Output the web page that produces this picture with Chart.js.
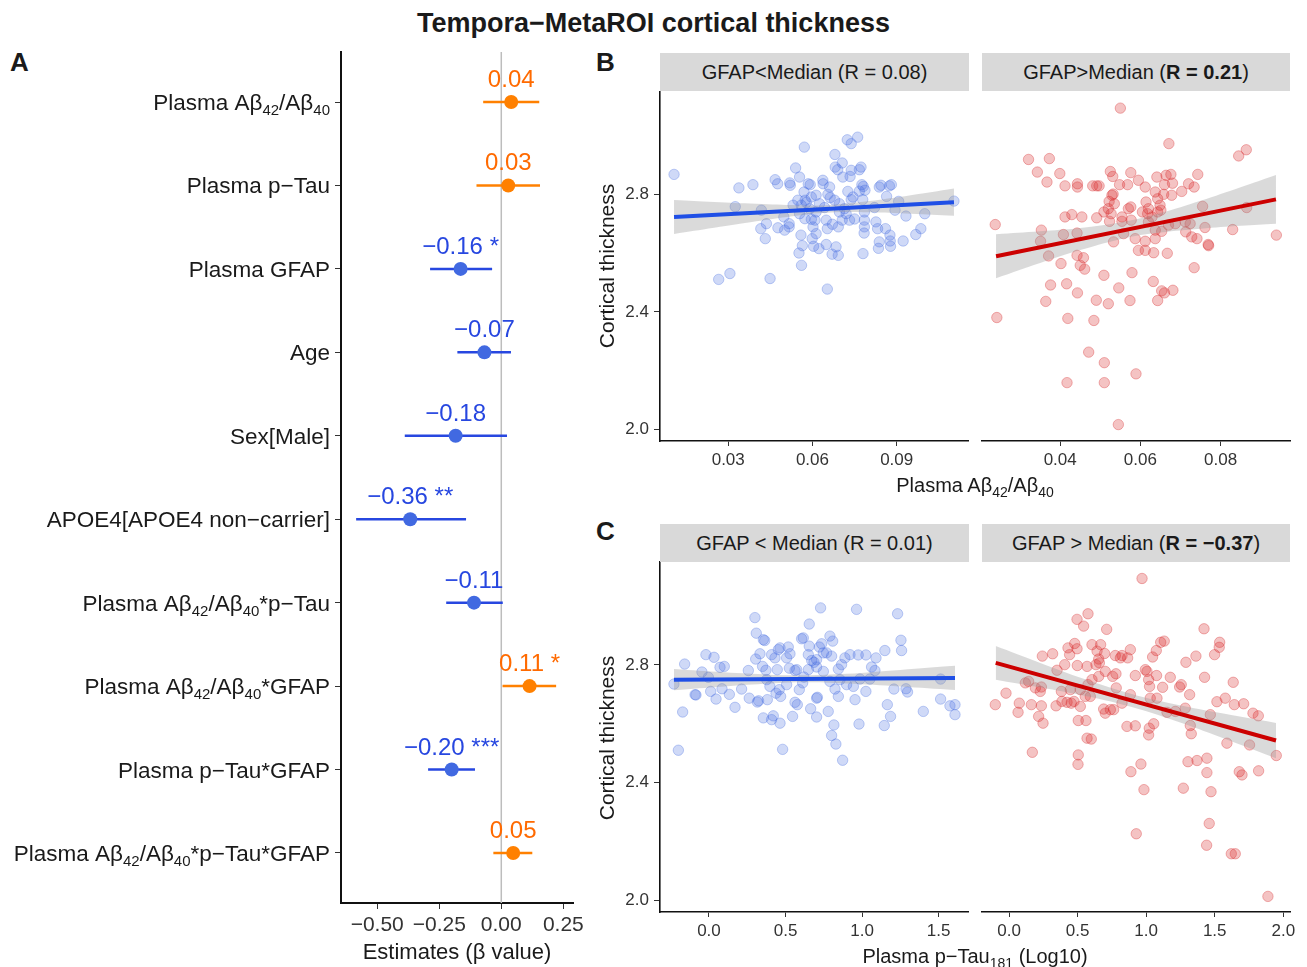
<!DOCTYPE html>
<html><head><meta charset="utf-8">
<script src="https://cdn.jsdelivr.net/npm/chart.js@4.4.1/dist/chart.umd.min.js"></script>
<style>
body{margin:0;background:#fff;font-family:"Liberation Sans",Arial,sans-serif;color:#1a1a1a}
#wrap{position:relative;width:1307px;height:967px;overflow:hidden;background:#fff}
.abs{position:absolute;white-space:nowrap}
canvas{position:absolute}
.strip{position:absolute;background:#d9d9d9;text-align:center;font-size:20px;color:#1a1a1a;white-space:nowrap}
.sub{font-size:14px;position:relative;top:5px}
.ytitle{position:absolute;width:220px;height:24px;line-height:24px;text-align:center;font-size:21px;transform:rotate(-90deg);white-space:nowrap}
</style></head><body><div id="wrap">
<div class="abs" style="left:0;width:1307px;top:10px;text-align:center;font-weight:bold;font-size:27px;line-height:27px">Tempora−MetaROI cortical thickness</div>
<div class="abs" style="left:10px;top:49px;font-weight:bold;font-size:26px;line-height:26px">A</div>
<div class="abs" style="left:596px;top:49px;font-weight:bold;font-size:26px;line-height:26px">B</div>
<div class="abs" style="left:596px;top:518px;font-weight:bold;font-size:26px;line-height:26px">C</div>

<canvas id="cA" width="590" height="900" style="left:0;top:40px"></canvas>
<canvas id="cB1" width="385" height="391" style="left:590px;top:85px"></canvas>
<canvas id="cB2" width="325" height="391" style="left:975px;top:85px"></canvas>
<canvas id="cC1" width="385" height="392" style="left:590px;top:555px"></canvas>
<canvas id="cC2" width="325" height="392" style="left:975px;top:555px"></canvas>

<div class="strip" style="left:660px;top:53px;width:309px;height:38px;line-height:38px">GFAP&lt;Median (R = 0.08)</div>
<div class="strip" style="left:982px;top:53px;width:308px;height:38px;line-height:38px">GFAP&gt;Median (<b>R = 0.21</b>)</div>
<div class="strip" style="left:660px;top:524px;width:309px;height:38px;line-height:38px">GFAP &lt; Median (R = 0.01)</div>
<div class="strip" style="left:982px;top:524px;width:308px;height:38px;line-height:38px">GFAP &gt; Median (<b>R = −0.37</b>)</div>

<div class="ytitle" style="left:497px;top:254px">Cortical thickness</div>
<div class="ytitle" style="left:497px;top:726px">Cortical thickness</div>

<div class="abs" style="left:257px;width:400px;top:941px;text-align:center;font-size:22px;line-height:22px">Estimates (β value)</div>
<div class="abs" style="left:775px;width:400px;top:475px;text-align:center;font-size:20px;line-height:20px">Plasma Aβ<span class="sub">42</span>/Aβ<span class="sub">40</span></div>
<div class="abs" style="left:775px;width:400px;top:946px;text-align:center;font-size:20px;line-height:20px">Plasma p−Tau<span class="sub">181</span> (Log10)</div>
</div>
<script>
// ---------------- DATA ----------------
const forestLabels = ['Plasma Aβ_{42}/Aβ_{40}','Plasma p−Tau','Plasma GFAP','Age','Sex[Male]','APOE4[APOE4 non−carrier]','Plasma Aβ_{42}/Aβ_{40}*p−Tau','Plasma Aβ_{42}/Aβ_{40}*GFAP','Plasma p−Tau*GFAP','Plasma Aβ_{42}/Aβ_{40}*p−Tau*GFAP'];
const forestEst  = [0.040, 0.028, -0.164, -0.068, -0.184, -0.367, -0.110, 0.114, -0.200, 0.048];
const forestLow  = [-0.073, -0.100, -0.287, -0.177, -0.389, -0.585, -0.222, 0.005, -0.295, -0.032];
const forestHigh = [0.153, 0.156, -0.037, 0.039, 0.023, -0.142, 0.006, 0.221, -0.106, 0.125];
const forestText = ['0.04','0.03','−0.16','−0.07','−0.18','−0.36','−0.11','0.11','−0.20','0.05'];
const forestStars = ['','','*','','','**','','*','***',''];
const forestXTicks = [-0.5, -0.25, 0, 0.25];
const forestXTickLabels = ['−0.50','−0.25','0.00','0.25'];

const yTicks = [2.0, 2.4, 2.8];
const yTickLabels = ['2.0','2.4','2.8'];

const bLowXTicks = [0.03, 0.06, 0.09];      const bLowXLabels = ['0.03','0.06','0.09'];
const bHighXTicks = [0.04, 0.06, 0.08];     const bHighXLabels = ['0.04','0.06','0.08'];
const cLowXTicks = [0, 0.5, 1.0, 1.5];      const cLowXLabels = ['0.0','0.5','1.0','1.5'];
const cHighXTicks = [0, 0.5, 1.0, 1.5, 2.0]; const cHighXLabels = ['0.0','0.5','1.0','1.5','2.0'];

// Panel B, GFAP < median (Abeta42/40, thickness)
const bLowPts = [[0.0107,2.869],[0.0338,2.823],[0.0388,2.834],[0.0325,2.759],[0.0266,2.511],[0.0306,2.531],[0.0449,2.514],[0.0467,2.851],[0.0476,2.837],[0.0519,2.840],[0.0521,2.832],[0.0540,2.891],[0.0554,2.860],[0.0571,2.962],[0.0585,2.837],[0.0592,2.834],[0.0570,2.809],[0.0574,2.781],[0.0560,2.764],[0.0554,2.735],[0.0573,2.718],[0.0596,2.716],[0.0609,2.713],[0.0602,2.690],[0.0613,2.667],[0.0599,2.650],[0.0559,2.662],[0.0552,2.601],[0.0561,2.559],[0.0564,2.626],[0.0604,2.624],[0.0623,2.616],[0.0649,2.630],[0.0653,2.478],[0.0670,2.597],[0.0692,2.593],[0.0684,2.622],[0.0653,2.684],[0.0671,2.699],[0.0692,2.690],[0.0649,2.713],[0.0637,2.849],[0.0638,2.837],[0.0661,2.826],[0.0655,2.801],[0.0663,2.790],[0.0613,2.798],[0.0596,2.792],[0.0625,2.769],[0.0643,2.756],[0.0679,2.781],[0.0696,2.769],[0.0714,2.752],[0.0720,2.735],[0.0706,2.713],[0.0732,2.713],[0.0750,2.717],[0.0726,2.811],[0.0738,2.783],[0.0680,2.937],[0.0706,2.908],[0.0681,2.894],[0.0690,2.885],[0.0708,2.860],[0.0734,2.862],[0.0738,2.883],[0.0724,2.987],[0.0738,2.974],[0.0761,2.996],[0.0773,2.894],[0.0767,2.885],[0.0776,2.834],[0.0781,2.828],[0.0787,2.815],[0.0767,2.812],[0.0779,2.783],[0.0785,2.741],[0.0785,2.713],[0.0785,2.690],[0.0784,2.669],[0.0780,2.599],[0.0826,2.707],[0.0832,2.684],[0.0860,2.684],[0.0876,2.662],[0.0877,2.642],[0.0838,2.639],[0.0835,2.617],[0.0878,2.624],[0.0923,2.642],[0.0968,2.664],[0.0986,2.684],[0.0933,2.727],[0.1000,2.735],[0.0894,2.747],[0.0907,2.777],[0.0864,2.794],[0.0838,2.826],[0.0844,2.832],[0.0874,2.830],[0.0881,2.834],[0.0821,2.756],[0.0418,2.747],[0.0416,2.684],[0.0436,2.701],[0.0432,2.650],[0.0477,2.687],[0.0501,2.679],[0.0517,2.690],[0.0517,2.701],[0.0498,2.724],[0.0531,2.764],[0.0548,2.781],[0.0578,2.773],[0.0613,2.741],[0.0696,2.741],[0.0744,2.792],[0.0590,2.752],[0.1104,2.778]];
const bLowFitX = [0.0107, 0.1104];
const bLowFitY = [2.724, 2.774];
const bLowBandX  = [0.0107, 0.025, 0.040, 0.055, 0.0664, 0.080, 0.095, 0.1104];
const bLowBandLo = [2.666, 2.687, 2.709, 2.729, 2.739, 2.740, 2.735, 2.728];
const bLowBandHi = [2.782, 2.775, 2.769, 2.764, 2.765, 2.778, 2.798, 2.821];

// Panel B, GFAP > median
const bHighPts = [[0.0550,3.095],[0.0671,2.974],[0.0845,2.932],[0.0864,2.953],[0.0321,2.920],[0.0373,2.923],[0.0343,2.877],[0.0399,2.872],[0.0367,2.843],[0.0412,2.830],[0.0443,2.837],[0.0443,2.826],[0.0481,2.830],[0.0491,2.830],[0.0497,2.830],[0.0525,2.879],[0.0531,2.862],[0.0576,2.875],[0.0595,2.849],[0.0612,2.826],[0.0568,2.834],[0.0548,2.834],[0.0532,2.802],[0.0529,2.798],[0.0522,2.777],[0.0520,2.752],[0.0535,2.769],[0.0527,2.735],[0.0509,2.741],[0.0491,2.721],[0.0454,2.724],[0.0429,2.732],[0.0412,2.724],[0.0238,2.698],[0.0353,2.679],[0.0408,2.664],[0.0442,2.669],[0.0351,2.641],[0.0523,2.709],[0.0554,2.724],[0.0570,2.752],[0.0576,2.758],[0.0554,2.709],[0.0577,2.713],[0.0614,2.775],[0.0605,2.741],[0.0618,2.735],[0.0637,2.809],[0.0641,2.860],[0.0664,2.866],[0.0676,2.869],[0.0660,2.834],[0.0680,2.839],[0.0658,2.801],[0.0678,2.798],[0.0703,2.811],[0.0720,2.837],[0.0734,2.826],[0.0743,2.869],[0.0643,2.786],[0.0649,2.764],[0.0643,2.741],[0.0651,2.747],[0.0629,2.724],[0.0620,2.707],[0.0637,2.679],[0.0653,2.675],[0.0670,2.696],[0.0687,2.701],[0.0712,2.707],[0.0724,2.701],[0.0761,2.688],[0.0755,2.760],[0.0830,2.681],[0.0865,2.756],[0.0939,2.662],[0.0713,2.673],[0.0728,2.656],[0.0741,2.650],[0.0769,2.630],[0.0587,2.650],[0.0612,2.641],[0.0637,2.650],[0.0533,2.639],[0.0558,2.667],[0.0620,2.752],[0.0371,2.591],[0.0442,2.593],[0.0458,2.585],[0.0402,2.565],[0.0450,2.559],[0.0461,2.546],[0.0509,2.525],[0.0579,2.534],[0.0632,2.504],[0.0376,2.492],[0.0416,2.496],[0.0443,2.465],[0.0364,2.436],[0.0490,2.440],[0.0520,2.428],[0.0546,2.482],[0.0574,2.439],[0.0643,2.439],[0.0653,2.472],[0.0660,2.465],[0.0681,2.474],[0.0242,2.381],[0.0419,2.378],[0.0484,2.371],[0.0471,2.263],[0.0510,2.227],[0.0589,2.189],[0.0417,2.159],[0.0510,2.159],[0.0545,2.016],[0.0595,2.610],[0.0612,2.610],[0.0633,2.602],[0.0667,2.600],[0.0734,2.551],[0.0770,2.626]];
const bHighFitX = [0.0240, 0.0938];
const bHighFitY = [2.590, 2.784];
const bHighBandX  = [0.0240, 0.035, 0.045, 0.0569, 0.065, 0.075, 0.085, 0.0938];
const bHighBandLo = [2.515, 2.567, 2.611, 2.654, 2.671, 2.684, 2.694, 2.701];
const bHighBandHi = [2.665, 2.675, 2.686, 2.710, 2.737, 2.779, 2.825, 2.867];

// Panel C, GFAP < median (p-Tau181 log10, thickness)
const cLowPts = [[-0.229,2.735],[-0.200,2.510],[-0.172,2.640],[-0.159,2.803],[-0.091,2.699],[-0.085,2.698],[-0.046,2.776],[-0.020,2.835],[-0.004,2.758],[0.011,2.710],[0.033,2.826],[0.046,2.684],[0.072,2.792],[0.085,2.719],[0.100,2.795],[0.133,2.700],[0.170,2.656],[0.213,2.718],[0.257,2.781],[0.263,2.687],[0.300,2.961],[0.309,2.908],[0.305,2.820],[0.316,2.674],[0.324,2.678],[0.333,2.838],[0.355,2.886],[0.364,2.883],[0.350,2.795],[0.372,2.782],[0.355,2.620],[0.409,2.614],[0.420,2.627],[0.381,2.682],[0.409,2.835],[0.431,2.824],[0.453,2.852],[0.464,2.858],[0.446,2.784],[0.459,2.716],[0.438,2.704],[0.468,2.693],[0.464,2.602],[0.481,2.513],[0.518,2.861],[0.529,2.838],[0.507,2.824],[0.525,2.789],[0.562,2.781],[0.573,2.784],[0.590,2.716],[0.562,2.673],[0.577,2.665],[0.546,2.625],[0.605,2.889],[0.616,2.892],[0.655,2.939],[0.655,2.864],[0.649,2.835],[0.671,2.815],[0.686,2.809],[0.703,2.818],[0.721,2.861],[0.736,2.872],[0.747,2.841],[0.768,2.841],[0.801,2.830],[0.790,2.898],[0.808,2.881],[0.729,2.994],[0.703,2.793],[0.747,2.778],[0.649,2.784],[0.620,2.759],[0.612,2.739],[0.703,2.687],[0.708,2.690],[0.664,2.651],[0.703,2.623],[0.779,2.642],[0.790,2.744],[0.823,2.718],[0.845,2.693],[0.816,2.596],[0.801,2.560],[0.829,2.531],[0.873,2.476],[0.845,2.786],[0.866,2.801],[0.888,2.824],[0.921,2.835],[0.975,2.834],[1.025,2.834],[1.062,2.793],[1.084,2.781],[1.091,2.824],[1.149,2.849],[0.964,2.989],[1.232,2.974],[1.254,2.884],[1.258,2.849],[0.943,2.727],[0.954,2.682],[0.980,2.599],[1.025,2.710],[0.986,2.752],[1.051,2.752],[1.165,2.665],[1.186,2.625],[1.145,2.594],[1.208,2.718],[1.287,2.719],[1.297,2.708],[1.400,2.642],[1.513,2.752],[1.513,2.684],[1.574,2.661],[1.607,2.665],[1.607,2.631],[0.856,2.750],[0.899,2.733],[0.507,2.733],[0.398,2.727],[0.377,2.750]];
const cLowFitX = [-0.229, 1.607];
const cLowFitY = [2.750, 2.756];
const cLowBandX  = [-0.229, 0.100, 0.400, 0.6226, 0.900, 1.250, 1.607];
const cLowBandLo = [2.714, 2.727, 2.737, 2.741, 2.737, 2.727, 2.715];
const cLowBandHi = [2.786, 2.775, 2.767, 2.765, 2.770, 2.783, 2.797];

// Panel C, GFAP > median
const cHighPts = [[0.970,3.094],[0.496,2.955],[0.544,2.932],[0.576,2.974],[0.712,2.921],[1.422,2.923],[1.536,2.877],[1.533,2.860],[1.499,2.835],[0.243,2.830],[0.318,2.838],[0.430,2.858],[0.479,2.873],[0.496,2.855],[0.442,2.835],[0.605,2.869],[0.668,2.869],[0.642,2.847],[0.697,2.839],[0.654,2.820],[0.634,2.801],[0.659,2.807],[0.775,2.832],[0.824,2.832],[0.812,2.824],[0.865,2.824],[0.885,2.852],[1.047,2.827],[1.074,2.849],[1.106,2.877],[1.132,2.881],[1.290,2.809],[1.363,2.830],[0.406,2.801],[0.498,2.798],[0.569,2.795],[0.702,2.778],[0.756,2.761],[0.780,2.770],[0.350,2.782],[0.119,2.739],[0.143,2.744],[0.236,2.725],[0.192,2.722],[0.228,2.710],[-0.022,2.704],[-0.100,2.665],[0.075,2.670],[0.066,2.639],[0.163,2.665],[0.236,2.661],[0.216,2.625],[0.248,2.602],[0.343,2.661],[0.386,2.676],[0.423,2.673],[0.454,2.670],[0.474,2.676],[0.520,2.659],[0.382,2.710],[0.447,2.716],[0.520,2.716],[0.576,2.733],[0.605,2.750],[0.654,2.761],[0.593,2.693],[0.556,2.693],[0.739,2.648],[0.763,2.648],[0.702,2.636],[0.690,2.650],[0.782,2.722],[0.824,2.670],[0.885,2.699],[0.921,2.764],[0.994,2.784],[1.006,2.778],[1.018,2.750],[1.025,2.727],[1.076,2.764],[1.030,2.687],[1.079,2.687],[1.176,2.758],[1.120,2.724],[1.244,2.725],[1.256,2.733],[1.317,2.699],[1.285,2.653],[1.426,2.758],[1.635,2.741],[1.516,2.675],[1.577,2.687],[1.643,2.665],[1.711,2.668],[1.779,2.636],[1.818,2.627],[1.468,2.631],[1.322,2.594],[1.329,2.566],[0.860,2.591],[0.921,2.593],[1.023,2.585],[1.055,2.600],[1.018,2.562],[0.569,2.551],[0.600,2.548],[0.505,2.611],[0.561,2.611],[1.589,2.534],[1.754,2.528],[1.152,2.639],[1.213,2.642],[0.170,2.503],[0.505,2.494],[0.503,2.462],[0.889,2.437],[0.962,2.463],[1.305,2.471],[1.371,2.475],[1.443,2.483],[1.443,2.434],[0.984,2.376],[1.271,2.381],[1.473,2.369],[1.460,2.261],[0.928,2.226],[1.441,2.187],[1.621,2.158],[1.650,2.158],[1.888,2.013],[1.679,2.437],[1.699,2.426],[1.820,2.440],[1.949,2.492]];
const cHighFitX = [-0.097, 1.947];
const cHighFitY = [2.807, 2.543];
const cHighBandX  = [-0.097, 0.200, 0.500, 0.895, 1.200, 1.500, 1.947];
const cHighBandLo = [2.750, 2.726, 2.700, 2.657, 2.612, 2.562, 2.483];
const cHighBandHi = [2.864, 2.812, 2.760, 2.701, 2.667, 2.640, 2.603];

// ---------------- STYLE ----------------
const FONT = '"Liberation Sans", Arial, sans-serif';
Chart.defaults.font.family = FONT;
Chart.defaults.color = '#333';
const ORANGE_PT = '#FF8000', ORANGE_TXT = '#FF6A00';
const BLUE_PT = '#4169E1', BLUE_TXT = '#2747E0';

function segs(s){
  const out=[]; const re=/_\{([^}]*)\}/g; let last=0, m;
  while((m=re.exec(s))){ if(m.index>last) out.push({t:s.slice(last,m.index),sub:false}); out.push({t:m[1],sub:true}); last=re.lastIndex; }
  if(last<s.length) out.push({t:s.slice(last),sub:false});
  return out;
}
function drawRich(ctx, s, xRight, baseY, size){
  const parts = segs(s); const subSize = Math.round(size*0.68);
  let w = 0;
  parts.forEach(p=>{ ctx.font=(p.sub?subSize:size)+'px '+FONT; p.w=ctx.measureText(p.t).width; w+=p.w; });
  let x = xRight - w;
  ctx.textAlign='left'; ctx.textBaseline='alphabetic'; ctx.fillStyle='#1a1a1a';
  parts.forEach(p=>{ ctx.font=(p.sub?subSize:size)+'px '+FONT; ctx.fillText(p.t, x, baseY + (p.sub?5:0)); x+=p.w; });
}

const forestPlugin = {
  id:'forestText',
  afterDraw(chart){
    const {ctx, scales:{x, y}} = chart;
    ctx.save();
    forestLabels.forEach((lab,i)=>{
      drawRich(ctx, lab, chart.chartArea.left - 11, y.getPixelForValue(i+1) + 8, 22.5);
    });
    ctx.font = '24px ' + FONT; ctx.textAlign='center'; ctx.textBaseline='alphabetic';
    forestEst.forEach((v,i)=>{
      const txt = forestText[i] + (forestStars[i] ? ' ' + forestStars[i] : '');
      ctx.fillStyle = v > 0 ? ORANGE_TXT : BLUE_TXT;
      ctx.fillText(txt, x.getPixelForValue(v), y.getPixelForValue(i+1) - 15);
    });
    ctx.restore();
  }
};

// ---------------- PANEL A ----------------
const forestDatasets = [];
forestDatasets.push({type:'scatter', showLine:true, data:[{x:0,y:0.4},{x:0,y:10.6}], borderColor:'#bdbdbd', borderWidth:1.5, pointRadius:0, order:5});
forestEst.forEach((v,i)=>{
  forestDatasets.push({type:'scatter', showLine:true, data:[{x:forestLow[i],y:i+1},{x:forestHigh[i],y:i+1}],
    borderColor: v>0 ? ORANGE_PT : BLUE_TXT, borderWidth:2.5, pointRadius:0, order:3});
});
forestDatasets.push({type:'scatter', data:forestEst.map((v,i)=>({x:v,y:i+1})).filter(p=>p.x>0), pointRadius:7, pointBackgroundColor:ORANGE_PT, pointBorderWidth:0, order:1});
forestDatasets.push({type:'scatter', data:forestEst.map((v,i)=>({x:v,y:i+1})).filter(p=>p.x<=0), pointRadius:7, pointBackgroundColor:BLUE_PT, pointBorderWidth:0, order:1});

new Chart(document.getElementById('cA'), {
  type:'scatter',
  data:{datasets:forestDatasets},
  options:{
    responsive:false, animation:false, events:[], devicePixelRatio:1,
    layout:{padding:{left:0, right:17, top:12, bottom:0}},
    plugins:{legend:{display:false}, tooltip:{enabled:false}},
    scales:{
      x:{type:'linear', min:-0.646, max:0.289,
         afterBuildTicks:s=>{ s.ticks = forestXTicks.map(v=>({value:v})); },
         ticks:{callback:(v,i)=>forestXTickLabels[i], font:{size:21}, color:'#333', padding:4, maxRotation:0, autoSkip:false},
         grid:{drawOnChartArea:false, drawTicks:true, tickLength:6, color:'#333'},
         border:{display:true, color:'#111', width:2},
         afterFit:s=>{ s.height=37; s.paddingLeft=0; s.paddingRight=0; }},
      y:{type:'linear', min:0.4, max:10.6, reverse:true,
         afterBuildTicks:s=>{ s.ticks = forestLabels.map((c,i)=>({value:i+1})); },
         ticks:{display:false},
         grid:{drawOnChartArea:false, drawTicks:true, tickLength:6, color:'#333'},
         border:{display:true, color:'#111', width:2},
         afterFit:s=>{ s.width=341; s.paddingTop=0; s.paddingBottom=0; }}
    }
  },
  plugins:[forestPlugin]
});

// ---------------- SCATTER PANELS ----------------
function panel(id, o){
  return new Chart(document.getElementById(id), {
    type:'scatter',
    data:{datasets:[
      {type:'scatter', data:o.pts.map(p=>({x:p[0],y:p[1]})), pointRadius:5.2,
        pointBackgroundColor:o.fill, pointBorderColor:o.stroke, pointBorderWidth:1, order:3},
      {type:'line', data:o.bx.map((v,i)=>({x:v,y:o.blo[i]})), borderColor:'rgba(0,0,0,0)', borderWidth:1,
        pointRadius:0, fill:false, tension:0.4, order:2},
      {type:'line', data:o.bx.map((v,i)=>({x:v,y:o.bhi[i]})), borderColor:'rgba(0,0,0,0)', borderWidth:1,
        pointRadius:0, fill:'-1', backgroundColor:'rgba(153,153,153,0.36)', tension:0.4, order:2},
      {type:'line', data:o.fx.map((v,i)=>({x:v,y:o.fy[i]})), borderColor:o.line, borderWidth:4,
        pointRadius:0, fill:false, order:1}
    ]},
    options:{
      responsive:false, animation:false, events:[], devicePixelRatio:1,
      layout:{padding:o.pad},
      plugins:{legend:{display:false}, tooltip:{enabled:false}},
      scales:{
        x:{type:'linear', min:o.xmin, max:o.xmax,
           afterBuildTicks:s=>{ s.ticks = o.xt.map(v=>({value:v})); },
           ticks:{callback:(v,i)=>o.xtl[i], font:{size:17}, color:'#333', padding:4, maxRotation:0, autoSkip:false},
           grid:{drawOnChartArea:false, drawTicks:true, tickLength:5, color:'#333'},
           border:{display:true, color:'#111', width:1.6},
           afterFit:s=>{ s.height=35; s.paddingLeft=0; s.paddingRight=0; }},
        y:{type:'linear', min:1.96, max:3.15, display:o.showY,
           afterBuildTicks:s=>{ s.ticks = yTicks.map(v=>({value:v})); },
           ticks:{callback:(v,i)=>yTickLabels[i], font:{size:17}, color:'#333', padding:5},
           grid:{drawOnChartArea:false, drawTicks:true, tickLength:6, color:'#333'},
           border:{display:true, color:'#111', width:1.6},
           afterFit:s=>{ s.width = o.showY ? 70 : 0; s.paddingTop=0; s.paddingBottom=0; }}
      }
    }
  });
}
const BLUE_FILL='rgba(65,105,225,0.25)', BLUE_STROKE='rgba(65,105,225,0.32)', BLUE_LINE='#1F4FE6';
const RED_FILL='rgba(214,39,40,0.28)', RED_STROKE='rgba(214,39,40,0.34)', RED_LINE='#CC0000';

panel('cB1', {pts:bLowPts, fill:BLUE_FILL, stroke:BLUE_STROKE, line:BLUE_LINE, fx:bLowFitX, fy:bLowFitY,
  bx:bLowBandX, blo:bLowBandLo, bhi:bLowBandHi, xmin:0.0057, xmax:0.1154, xt:bLowXTicks, xtl:bLowXLabels,
  showY:true, pad:{left:0,right:7,top:7,bottom:0}});
panel('cB2', {pts:bHighPts, fill:RED_FILL, stroke:RED_STROKE, line:RED_LINE, fx:bHighFitX, fy:bHighFitY,
  bx:bHighBandX, blo:bHighBandLo, bhi:bHighBandHi, xmin:0.0205, xmax:0.0973, xt:bHighXTicks, xtl:bHighXLabels,
  showY:false, pad:{left:7,right:10,top:7,bottom:0}});
panel('cC1', {pts:cLowPts, fill:BLUE_FILL, stroke:BLUE_STROKE, line:BLUE_LINE, fx:cLowFitX, fy:cLowFitY,
  bx:cLowBandX, blo:cLowBandLo, bhi:cLowBandHi, xmin:-0.320, xmax:1.692, xt:cLowXTicks, xtl:cLowXLabels,
  showY:true, pad:{left:0,right:7,top:7,bottom:0}});
panel('cC2', {pts:cHighPts, fill:RED_FILL, stroke:RED_STROKE, line:RED_LINE, fx:cHighFitX, fy:cHighFitY,
  bx:cHighBandX, blo:cHighBandLo, bhi:cHighBandHi, xmin:-0.197, xmax:2.049, xt:cHighXTicks, xtl:cHighXLabels,
  showY:false, pad:{left:7,right:10,top:7,bottom:0}});
</script>
</body></html>
